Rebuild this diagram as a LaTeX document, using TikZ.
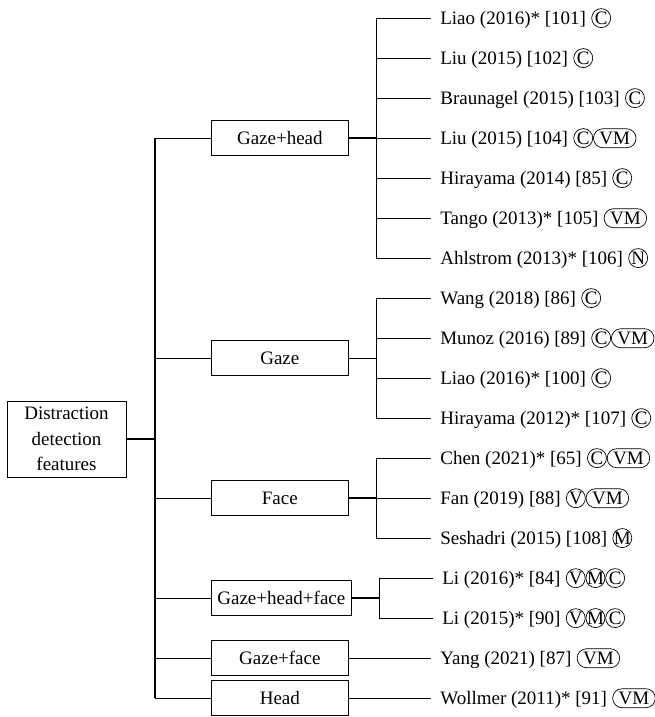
\documentclass[tikz,border=0pt]{standalone}
\usepackage{fontspec}
\setmainfont{Liberation Serif}
\newcommand\dfont{\fontsize{19}{25.5}\selectfont}
\begin{document}
\begin{tikzpicture}[x=1pt,y=-1pt,
  line width=0.7pt,
  thk/.style={line width=1.3pt},
  catbox/.style={draw, line width=0.7pt, anchor=west, minimum width=137pt, minimum height=35pt, inner xsep=6pt, inner ysep=0pt, text height=12.6pt, text depth=0pt, font=\dfont},
  leaf/.style={anchor=west, inner sep=0pt, text height=12.6pt, text depth=0pt, font=\dfont},
  cb/.style={draw, line width=0.7pt, rounded corners=9.5pt, minimum width=19pt, minimum height=19pt, inner sep=0pt, anchor=base west, font=\dfont},
  pb/.style={cb, inner xsep=6pt},
  lk/.style={shorten >=9pt}]
\useasboundingbox (0,0) rectangle (655,717);

% root
\node[draw, minimum width=119pt, minimum height=76pt, align=center, font=\dfont, inner sep=0pt] (root) at (66.5,439) {Distraction\\detection\\features};

% categories
\node[catbox] (gh)  at (211,138) {Gaze+head};
\node[catbox] (gz)  at (211,358) {Gaze};
\node[catbox] (fc)  at (211,498) {Face};
\node[catbox] (ghf) at (211,598) {Gaze+head+face};
\node[catbox] (gf)  at (211,658) {Gaze+face};
\node[catbox] (hd)  at (211,698) {Head};

% leaves
\node[leaf] (l0)  at (440,18)  {Liao (2016)* [101]};
\node[leaf] (l1)  at (440,58)  {Liu (2015) [102]};
\node[leaf] (l2)  at (440,98)  {Braunagel (2015) [103]};
\node[leaf] (l3)  at (440,138) {Liu (2015) [104]};
\node[leaf] (l4)  at (440,178) {Hirayama (2014) [85]};
\node[leaf] (l5)  at (440,218) {Tango (2013)* [105]};
\node[leaf] (l6)  at (440,258) {Ahlstrom (2013)* [106]};
\node[leaf] (l7)  at (440,298) {Wang (2018) [86]};
\node[leaf] (l8)  at (440,338) {Munoz (2016) [89]};
\node[leaf] (l9)  at (440,378) {Liao (2016)* [100]};
\node[leaf] (l10) at (440,418) {Hirayama (2012)* [107]};
\node[leaf] (l11) at (440,458) {Chen (2021)* [65]};
\node[leaf] (l12) at (440,498) {Fan (2019) [88]};
\node[leaf] (l13) at (440,538) {Seshadri (2015) [108]};
\node[leaf] (l14) at (442,578) {Li (2016)* [84]};
\node[leaf] (l15) at (442,618) {Li (2015)* [90]};
\node[leaf] (l16) at (440,658) {Yang (2021) [87]};
\node[leaf] (l17) at (440,698) {Wollmer (2011)* [91]};

% badges
\node[cb] (b0a)  at ([xshift=5pt]l0.base east) {C};
\node[cb] (b1a)  at ([xshift=5pt]l1.base east) {C};
\node[cb] (b2a)  at ([xshift=5pt]l2.base east) {C};
\node[cb] (b3a)  at ([xshift=5pt]l3.base east) {C};
\node[pb] (b3b)  at (b3a.base east) {VM};
\node[cb] (b4a)  at ([xshift=5pt]l4.base east) {C};
\node[pb] (b5a)  at ([xshift=5pt]l5.base east) {VM};
\node[cb] (b6a)  at ([xshift=5pt]l6.base east) {N};
\node[cb] (b7a)  at ([xshift=5pt]l7.base east) {C};
\node[cb] (b8a)  at ([xshift=5pt]l8.base east) {C};
\node[pb] (b8b)  at (b8a.base east) {VM};
\node[cb] (b9a)  at ([xshift=5pt]l9.base east) {C};
\node[cb] (b10a) at ([xshift=5pt]l10.base east) {C};
\node[cb] (b11a) at ([xshift=5pt]l11.base east) {C};
\node[pb] (b11b) at (b11a.base east) {VM};
\node[cb] (b12a) at ([xshift=5pt]l12.base east) {V};
\node[pb] (b12b) at (b12a.base east) {VM};
\node[cb] (b13a) at ([xshift=5pt]l13.base east) {M};
\node[cb] (b14a) at ([xshift=5pt]l14.base east) {V};
\node[cb] (b14b) at (b14a.base east) {M};
\node[cb] (b14c) at (b14b.base east) {C};
\node[cb] (b15a) at ([xshift=5pt]l15.base east) {V};
\node[cb] (b15b) at (b15a.base east) {M};
\node[cb] (b15c) at (b15b.base east) {C};
\node[pb] (b16a) at ([xshift=5pt]l16.base east) {VM};
\node[pb] (b17a) at ([xshift=5pt]l17.base east) {VM};

% trunk
\coordinate (tk) at (155,439);
\draw[thk] (root.east) -- (tk);
\draw[thk] (gh.west -| tk) -- (hd.west -| tk);
\foreach \c in {gh,gz,fc,ghf,gf,hd} \draw (\c.west) -- (\c.west -| tk);

% group brackets
\coordinate (ghb)  at (376,138);
\coordinate (gzb)  at (376,358);
\coordinate (fcb)  at (376,498);
\coordinate (ghfb) at (379,598);
\draw[thk] (gh.east) -- (ghb);
\draw (gz.east) -- (gzb);
\draw[thk] (fc.east) -- (fcb);
\draw[thk] (ghf.east) -- (ghfb);
\foreach \i in {0,...,6} \draw[lk] (ghb) |- (l\i.west);
\foreach \i in {7,...,10} \draw[lk] (gzb) |- (l\i.west);
\foreach \i in {11,...,13} \draw[lk] (fcb) |- (l\i.west);
\foreach \i in {14,15} \draw[lk] (ghfb) |- (l\i.west);
\draw[lk] (gf.east) -- (l16.west);
\draw[lk] (hd.east) -- (l17.west);
\end{tikzpicture}
\end{document}
